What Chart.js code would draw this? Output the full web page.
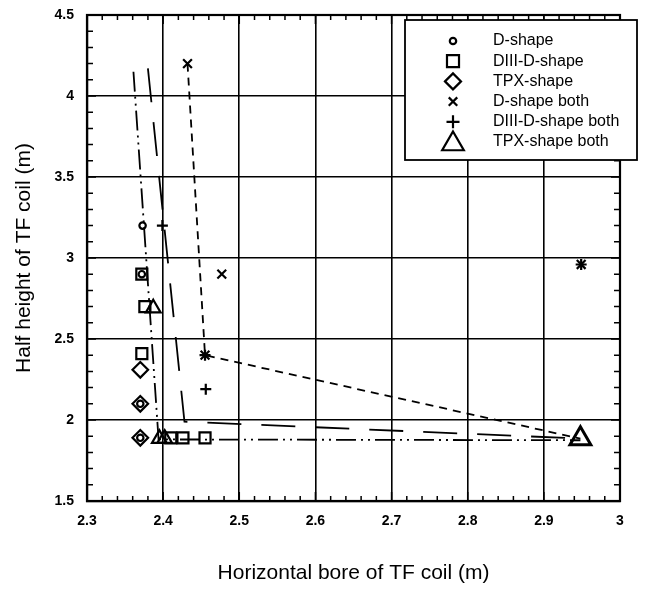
<!DOCTYPE html>
<html lang="en">
<head>
  <meta charset="UTF-8">
  <title>TF coil size vs shape</title>
  <script src="https://cdn.jsdelivr.net/npm/chart.js"></script>
  <style>
    html, body { margin: 0; padding: 0; background: #fff; }
    #wrap { width: 645px; height: 589px; position: relative; }
  </style>
</head>
<body>
  <div id="wrap"><canvas id="chart"></canvas></div>

  <script>
    // axis ticks
    const xTicks = [2.3, 2.4, 2.5, 2.6, 2.7, 2.8, 2.9, 3];
    const xTickLabels = ['2.3', '2.4', '2.5', '2.6', '2.7', '2.8', '2.9', '3'];
    const yTicks = [1.5, 2, 2.5, 3, 3.5, 4, 4.5];
    const yTickLabels = ['1.5', '2', '2.5', '3', '3.5', '4', '4.5'];

    // marker series, [horizontal bore, half height]
    const dShape = [[2.373, 3.20], [2.372, 2.90], [2.370, 2.10], [2.370, 1.89]];
    const d3dShape = [[2.372, 2.90], [2.376, 2.70], [2.372, 2.41], [2.410, 1.89], [2.426, 1.89], [2.455, 1.89]];
    const tpxShape = [[2.370, 2.31], [2.370, 2.10], [2.370, 1.89]];
    const dShapeBoth = [[2.432, 4.20], [2.477, 2.90], [2.455, 2.40], [2.949, 2.96]];
    const d3dShapeBoth = [[2.399, 3.20], [2.455, 2.40], [2.456, 2.19], [2.949, 2.96]];
    const tpxShapeBoth = [[2.387, 2.69], [2.395, 1.885], [2.402, 1.885], [2.948, 1.885]];

    // connecting curves
    const curveDashDot = [[2.361, 4.15], [2.394, 1.88], [2.948, 1.875]];
    const curveLongDash = [[2.380, 4.17], [2.428, 1.99], [2.948, 1.885]];
    const curveShortDash = [[2.432, 4.20], [2.455, 2.40], [2.948, 1.885]];

    const legendLabels = ['D-shape', 'DIII-D-shape', 'TPX-shape', 'D-shape both', 'DIII-D-shape both', 'TPX-shape both'];

    const FONT = '"Liberation Sans", Arial, Helvetica, sans-serif';
    const toXY = arr => arr.map(p => ({ x: p[0], y: p[1] }));

    function markerSet(label, data, style, radius) {
      return {
        label: label,
        data: toXY(data),
        pointStyle: style,
        pointRadius: radius,
        pointHoverRadius: radius,
        pointBorderWidth: 2.2,
        borderColor: '#000',
        backgroundColor: 'rgba(0,0,0,0)',
        showLine: false
      };
    }

    function curveSet(data, dash) {
      return {
        label: '',
        data: toXY(data),
        showLine: true,
        borderColor: '#000',
        borderWidth: 1.8,
        borderDash: dash,
        pointRadius: 0,
        fill: false,
        tension: 0
      };
    }

    const markerStyles = [
      { style: 'circle', radius: 3.2, legendRadius: 3.2 },
      { style: 'rect', radius: 7.8, legendRadius: 8.5 },
      { style: 'rectRot', radius: 7.8, legendRadius: 8 },
      { style: 'crossRot', radius: 6.2, legendRadius: 6 },
      { style: 'cross', radius: 5.5, legendRadius: 6.5 },
      { style: 'triangle', radius: 8.5, legendRadius: 12.5 }
    ];

    const seriesData = [dShape, d3dShape, tpxShape, dShapeBoth, d3dShapeBoth, tpxShapeBoth];

    const datasets = seriesData.map((d, i) =>
      markerSet(legendLabels[i], d, markerStyles[i].style, markerStyles[i].radius));
    // the triangle at the far right is drawn larger and heavier
    datasets[5].pointRadius = c => (c.raw && c.raw.x > 2.9 ? 12 : 8.5);
    datasets[5].pointBorderWidth = c => (c.raw && c.raw.x > 2.9 ? 3 : 2.2);

    datasets.push(curveSet(curveDashDot, [20, 5, 2, 5, 2, 5]));
    datasets.push(curveSet(curveLongDash, [34, 20]));
    datasets.push(curveSet(curveShortDash, [8, 6]));

    // frame + inward minor ticks on all four sides
    const frameTicks = {
      id: 'frameTicks',
      afterDraw(chart) {
        const { ctx, chartArea: a, scales: { x, y } } = chart;
        ctx.save();
        ctx.strokeStyle = '#000';
        ctx.lineWidth = 2.2;
        ctx.strokeRect(a.left, a.top, a.right - a.left, a.bottom - a.top);
        ctx.lineWidth = 1.5;
        ctx.beginPath();
        for (let i = 0; i <= 35; i++) {
          const px = x.getPixelForValue(2.3 + i * 0.02);
          const len = i % 5 === 0 ? 9 : 5;
          ctx.moveTo(px, a.bottom); ctx.lineTo(px, a.bottom - len);
          ctx.moveTo(px, a.top); ctx.lineTo(px, a.top + len);
        }
        for (let i = 0; i <= 30; i++) {
          const py = y.getPixelForValue(1.5 + i * 0.1);
          const len = i % 5 === 0 ? 9 : 6;
          ctx.moveTo(a.left, py); ctx.lineTo(a.left + len, py);
          ctx.moveTo(a.right, py); ctx.lineTo(a.right - len, py);
        }
        ctx.stroke();
        ctx.restore();
      }
    };

    // boxed legend in the upper right, partly outside the plot frame
    const boxLegend = {
      id: 'boxLegend',
      afterDraw(chart) {
        const ctx = chart.ctx;
        const box = { left: 405, top: 20, width: 232, height: 140 };
        ctx.save();
        ctx.fillStyle = '#fff';
        ctx.fillRect(box.left, box.top, box.width, box.height);
        ctx.strokeStyle = '#000';
        ctx.lineWidth = 1.8;
        ctx.strokeRect(box.left, box.top, box.width, box.height);

        ctx.font = '16px ' + FONT;
        ctx.textBaseline = 'middle';
        legendLabels.forEach((label, i) => {
          const rowY = 41 + i * 20.2;
          const m = markerStyles[i];
          ctx.fillStyle = 'rgba(0,0,0,0)';
          ctx.strokeStyle = '#000';
          ctx.lineWidth = 2.2;
          Chart.helpers.drawPoint(ctx, {
            pointStyle: m.style, radius: m.legendRadius, borderWidth: 2.2, rotation: 0
          }, 453, m.style === 'triangle' ? rowY + 2 : rowY);
          ctx.fillStyle = '#000';
          ctx.fillText(label, 493, rowY);
        });
        ctx.restore();
      }
    };

    const ctx = document.getElementById('chart').getContext('2d');
    new Chart(ctx, {
      type: 'scatter',
      data: { datasets: datasets },
      options: {
        responsive: true,
        maintainAspectRatio: false,
        animation: false,
        layout: { padding: { top: 9, right: 25, bottom: 0, left: 0 } },
        plugins: {
          legend: { display: false },
          tooltip: { enabled: false }
        },
        scales: {
          x: {
            type: 'linear',
            min: 2.3,
            max: 3,
            afterFit: s => { s.height = 88; s.paddingLeft = 0; s.paddingRight = 0; },
            afterBuildTicks: s => { s.ticks = xTicks.map(v => ({ value: v })); },
            ticks: {
              padding: 12,
              color: '#000',
              font: { family: FONT, size: 14, weight: 'bold' },
              callback: (v, i) => xTickLabels[i]
            },
            grid: { color: '#000', lineWidth: 1.6, drawTicks: false },
            border: { color: '#000', width: 2.2 },
            title: {
              display: true,
              text: 'Horizontal bore of TF coil (m)',
              color: '#000',
              font: { family: FONT, size: 21 },
              padding: { top: 0, bottom: 3 }
            }
          },
          y: {
            type: 'linear',
            min: 1.5,
            max: 4.5,
            afterFit: s => { s.width = 87; s.paddingTop = 0; s.paddingBottom = 0; },
            afterBuildTicks: s => { s.ticks = yTicks.map(v => ({ value: v })); },
            ticks: {
              padding: 13,
              color: '#000',
              font: { family: FONT, size: 14, weight: 'bold' },
              callback: (v, i) => yTickLabels[i]
            },
            grid: { color: '#000', lineWidth: 1.6, drawTicks: false },
            border: { color: '#000', width: 2.2 },
            title: {
              display: true,
              text: 'Half height of TF coil (m)',
              color: '#000',
              font: { family: FONT, size: 21 },
              padding: { top: 12, bottom: 0 }
            }
          }
        }
      },
      plugins: [frameTicks, boxLegend]
    });
  </script>
</body>
</html>
